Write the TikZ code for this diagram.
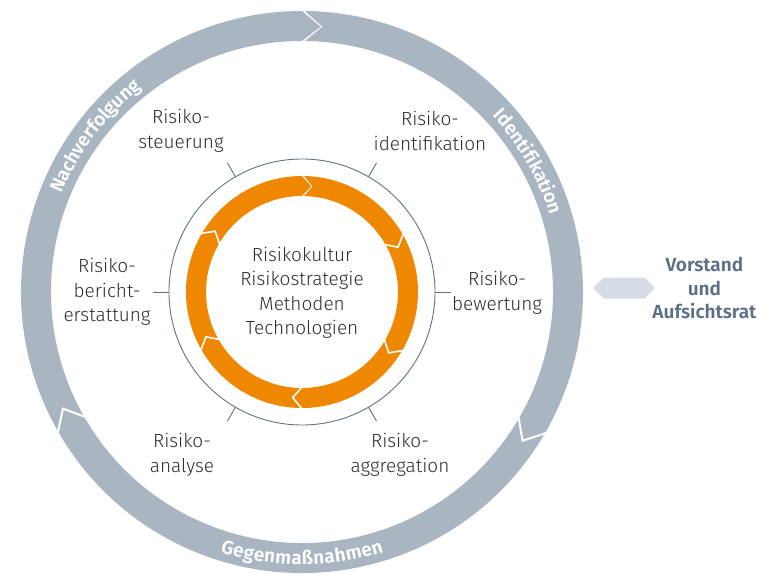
\documentclass[tikz,border=0pt]{standalone}
\usepackage{fontspec}
\setmainfont{Fira Sans Light}[BoldFont={Fira Sans SemiBold}]
\usepackage{tikz}
\usetikzlibrary{decorations.text, shapes.symbols, positioning}

\definecolor{ringgrau}{HTML}{AAB5C2}
\definecolor{orangeton}{HTML}{EF8700}
\definecolor{liniengrau}{HTML}{5E7185}
\definecolor{hexgrau}{HTML}{D5DCE4}
\definecolor{textgrau}{HTML}{2E2E2E}
\definecolor{gremiumgrau}{HTML}{5D6F82}

\newcommand{\ringschrift}{\fontsize{19}{19}\selectfont\bfseries}

\begin{document}
\begin{tikzpicture}[x=1pt, y=1pt,
		etappe/.style={align=center, text=textgrau, font=\fontsize{19}{24.5}\selectfont},
		strich/.style={draw=liniengrau, line width=0.9pt},
		fuge/.style={draw=white, line width=2pt},
		sechseck/.style={shape=signal, signal to=east and west, fill=hexgrau, minimum width=62pt, minimum height=21pt, inner sep=0pt},
		ringtext/.style={decorate, decoration={text along path, text align=center, raise=-6.5pt, text color=white}}
		]
		\useasboundingbox (-302,-281) rectangle (460,292);
		
		% Grauer Ring (drei Pfeile)
		\foreach \a in {90,-30,-150} {
			\fill[ringgrau] (\a:281) arc[start angle=\a, end angle=\a-120, radius=281]
				-- (\a-124:266) -- (\a-120:251)
				arc[start angle=\a-120, end angle=\a, radius=251] -- (\a-4:266) -- cycle;
			\draw[fuge] (\a:282) -- (\a-4:266) -- (\a:250);
		}
		
		% Beschriftung des Rings
		\path[ringtext, decoration={text={|\ringschrift|Nachverfolgung}}] (175:266) arc[start angle=175, end angle=111, radius=266];
		\path[ringtext, decoration={text={|\ringschrift|Identifikation}}] (62:266) arc[start angle=62, end angle=-2, radius=266];
		\path[ringtext, decoration={text={|\ringschrift|Gegenmaßnahmen}}] (236:266) arc[start angle=236, end angle=304, radius=266];
		
		% Innerer Kreis mit Strichen
		\draw[strich] (0,0) circle[radius=133];
		\foreach \a in {0,60,...,300}
			\draw[strich] (\a:133) -- (\a:149);
		
		% Oranger Kreislauf
		\foreach \a in {90,30,-30,-90,-150,-210} {
			\fill[orangeton] (\a:116) arc[start angle=\a, end angle=\a-60, radius=116]
				-- (\a-65:106) -- (\a-60:96)
				arc[start angle=\a-60, end angle=\a, radius=96] -- (\a-5:106) -- cycle;
			\draw[fuge, line width=1.6pt] (\a:117) -- (\a-5:106) -- (\a:95);
		}
		
		% Etappen
		\node[etappe] (mitte) at (0,-1) {Risikokultur\\Risikostrategie\\Methoden\\Technologien};
		\node[etappe] (steuerung) at (-121,161) {Risiko-\\steuerung};
		\node[etappe] (identifikation) at (128,161) {Risiko-\\identifikation};
		\node[etappe] (bewertung) at (195,-1) {Risiko-\\bewertung};
		\node[etappe] (aggregation) at (98,-163) {Risiko-\\aggregation};
		\node[etappe] (analyse) at (-120,-163) {Risiko-\\analyse};
		\node[etappe] (bericht) at (-195,0) {Risiko-\\bericht-\\erstattung};
		
		% Gremium
		\node[sechseck] (gremium) at (322,4) {};
		\node[right=-3pt of gremium, inner sep=0pt, align=center, text=gremiumgrau, font=\fontsize{19}{23.5}\selectfont\bfseries] (vorstand) {Vorstand\\und\\Aufsichtsrat};
	\end{tikzpicture}
\end{document}
